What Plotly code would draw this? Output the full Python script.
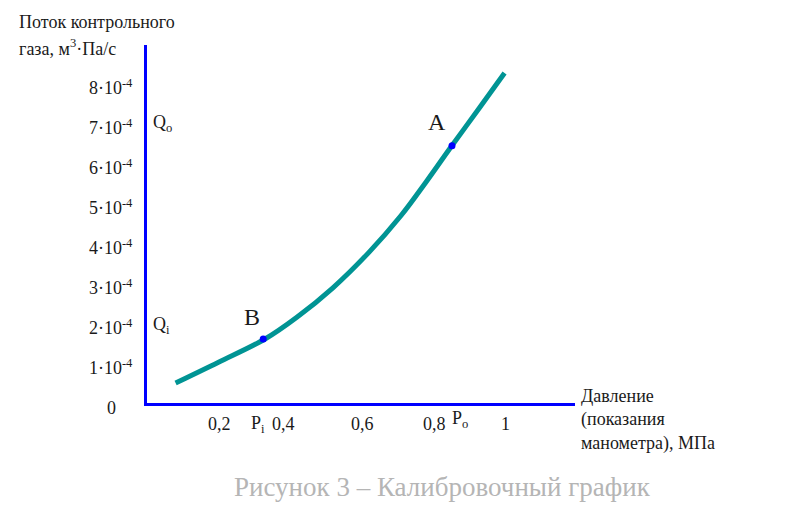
import plotly.graph_objects as go

# calibration curve: pressure (MPa) vs flow of control gas (m3*Pa/s)
pressure = [0.08, 0.2, 0.33, 0.42, 0.52, 0.62, 0.71, 0.78, 0.85, 0.93, 1.0]
flow = [0.5e-4, 1.02e-4, 1.6e-4, 2.15e-4, 2.88e-4, 3.76e-4, 4.68e-4, 5.52e-4, 6.4e-4, 7.38e-4, 8.25e-4]

# marked points B (Pi, Qi) and A (Po, Qo)
point_names = ["B", "A"]
point_p = [0.325, 0.853]
point_q = [1.6e-4, 6.43e-4]

y_ticks = [0, 1e-4, 2e-4, 3e-4, 4e-4, 5e-4, 6e-4, 7e-4, 8e-4]
y_labels = [""] + [f"{i}·10<sup>-4</sup>" for i in range(1, 9)]
x_ticks = [0.2, 0.4, 0.6, 0.8, 1.0]
x_labels = ["0,2", "0,4", "0,6", "0,8", "1"]

FONT = "Liberation Serif, DejaVu Serif, serif"

# plot area in pixels (reference): x 147..575, y 45..403
L, R, T, B = 147, 575, 45, 403
W, H = R - L, B - T
PAGE = 8  # body margin of the html page


def px_x(px):
    return (px - L) / W


def px_y(py):
    return (B - py) / H


fig = go.Figure()

fig.add_trace(go.Scatter(
    x=pressure, y=flow,
    mode="lines",
    line=dict(color="#009494", width=5, shape="spline", smoothing=1),
    hoverinfo="skip",
))

fig.add_trace(go.Scatter(
    x=point_p, y=point_q,
    mode="markers",
    marker=dict(color="#0000ff", size=7),
    hoverinfo="skip",
))

annotations = [
    # letters near the marked points
    dict(x=point_p[0], y=point_q[0], text=point_names[0], xshift=-11, yshift=22,
         font=dict(size=24)),
    dict(x=point_p[1], y=point_q[1], text=point_names[1], xshift=-15, yshift=24,
         font=dict(size=24)),
    # Q labels next to y axis
    dict(x=0, y=7e-4, text="Q<sub>o</sub>", xanchor="left", xshift=4),
    dict(x=0, y=1.95e-4, text="Q<sub>i</sub>", xanchor="left", xshift=4),
    # zero label
    dict(x=px_x(111), y=px_y(408), xref="paper", yref="paper", text="0"),
    # P labels under x axis
    dict(x=point_p[0], y=px_y(424), yref="paper", text="P<sub>i</sub>", xshift=-5),
    dict(x=point_p[1], y=px_y(419), yref="paper", text="P<sub>o</sub>", xshift=8),
    # axis titles
    dict(x=px_x(17), y=px_y(22), xref="paper", yref="paper", xanchor="left",
         text="Поток контрольного"),
    dict(x=px_x(17), y=px_y(47), xref="paper", yref="paper", xanchor="left",
         text="газа, м<sup>3</sup>·Па/с"),
    dict(x=px_x(579), y=px_y(384), xref="paper", yref="paper", xanchor="left", yanchor="top",
         align="left", text="Давление<br>(показания<br>манометра), МПа"),
    # caption
    dict(x=px_x(442), y=px_y(487), xref="paper", yref="paper",
         text="Рисунок 3 – Калибровочный график", font=dict(size=27, color="#b5b5b5")),
]
# x tick labels (0,4 sits a bit left of its tick in the reference)
for val, lab in zip(x_ticks, x_labels):
    annotations.append(dict(x=val, y=px_y(424), yref="paper", text=lab,
                            xshift=-7 if lab == "0,4" else 1))
for a in annotations:
    a["showarrow"] = False
    a.setdefault("xanchor", "center")
    a.setdefault("yanchor", "middle")

fig.update_layout(
    width=804 - PAGE, height=512 - PAGE,
    margin=dict(l=L - PAGE, r=804 - R, t=T - PAGE, b=512 - B, autoexpand=False),
    paper_bgcolor="white",
    plot_bgcolor="white",
    showlegend=False,
    font=dict(family=FONT, size=18, color="#1a1a1a"),
    annotations=annotations,
    xaxis=dict(
        range=[0, 1.197],
        tickvals=x_ticks, showticklabels=False,
        showgrid=False, zeroline=False, automargin=False,
        showline=True, linecolor="#0000ff", linewidth=3,
        ticks="inside", tickcolor="white", tickwidth=2, ticklen=3,
    ),
    yaxis=dict(
        range=[0, 8.95e-4],
        tickvals=y_ticks, ticktext=y_labels,
        showgrid=False, zeroline=False, automargin=False,
        showline=True, linecolor="#0000ff", linewidth=3,
        ticks="inside", tickcolor="white", tickwidth=2, ticklen=3,
        ticklabelstandoff=8, ticklabelshift=5,
    ),
)

fig.write_html("out.html")
